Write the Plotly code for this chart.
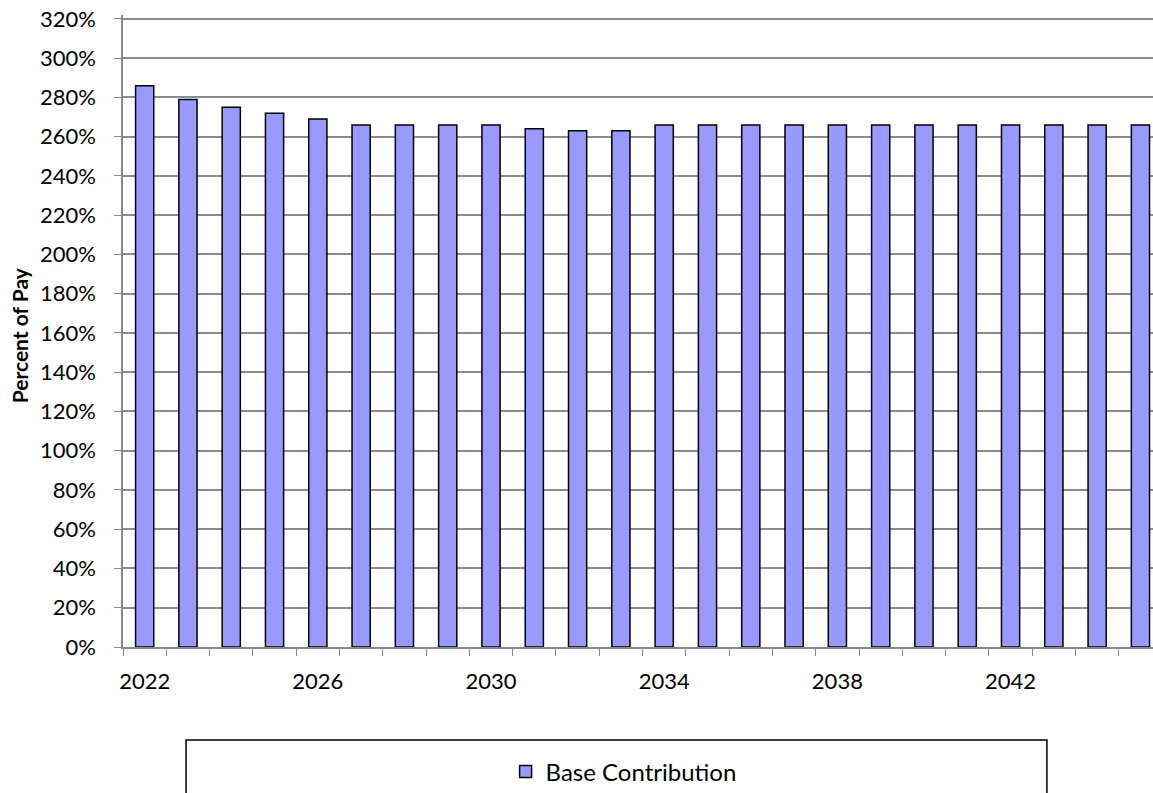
import plotly.graph_objects as go

years = [str(y) for y in range(2022, 2046)]
base_contribution = [286, 279, 275, 272, 269, 266, 266, 266, 266, 264, 263, 263,
                     266, 266, 266, 266, 266, 266, 266, 266, 266, 266, 266, 266]
tick_text = [y if (int(y) - 2022) % 4 == 0 else "" for y in years]
y_ticks = list(range(0, 321, 20))

FONT = "Lato"
FS = 22

fig = go.Figure()
fig.add_trace(go.Bar(
    x=years, y=base_contribution, name="Base Contribution",
    marker=dict(color="#9999FF", line=dict(color="#000000", width=1.5)),
))

# plot area: 123..1153 px wide, 15..647 px high
fig.update_layout(
    width=1153, height=793,
    margin=dict(l=123, r=0, t=15, b=146, autoexpand=False),
    paper_bgcolor="white", plot_bgcolor="white",
    font=dict(family=FONT, size=FS, color="#000000"),
    bargap=0.58,
    showlegend=True,
    legend=dict(orientation="h", x=0.486, xanchor="center", y=-0.1978, yanchor="middle",
                font=dict(family=FONT, size=24), bgcolor="rgba(0,0,0,0)"),
    xaxis=dict(
        type="category", range=[-0.5, 23.29],
        tickmode="array", tickvals=years, ticktext=tick_text, tickangle=0,
        tickson="boundaries", ticks="outside", ticklen=7, tickcolor="#888888",
        showline=True, linecolor="#888888", linewidth=1.5,
        showgrid=False, ticklabelstandoff=14, automargin=False,
        ticklabeloverflow="allow", fixedrange=True,
    ),
    yaxis=dict(
        range=[0, 322], tickmode="array", tickvals=y_ticks,
        ticktext=[f"{v}%" for v in y_ticks],
        ticks="outside", ticklen=7, tickcolor="#888888",
        showline=True, linecolor="#888888", linewidth=1.5,
        showgrid=True, gridcolor="#8c8c8c", gridwidth=1.5,
        zeroline=False, automargin=False, ticklabelstandoff=14,
        ticklabeloverflow="allow", fixedrange=True,
    ),
    annotations=[dict(text="<b>Percent of Pay</b>", xref="paper", yref="paper",
                      x=-0.1005, y=0.5 - 0.006, xanchor="center", yanchor="middle",
                      textangle=-90, showarrow=False,
                      font=dict(family=FONT, size=21, color="#000000"))],
    shapes=[dict(type="rect", xref="paper", yref="paper",
                 x0=0.0612, x1=0.897, y0=-0.147, y1=-0.26,
                 line=dict(color="#000000", width=1.5), fillcolor="rgba(0,0,0,0)")],
)

fig.write_html("out.html", config={"displayModeBar": False},
               post_script="document.body.style.margin='0';")
